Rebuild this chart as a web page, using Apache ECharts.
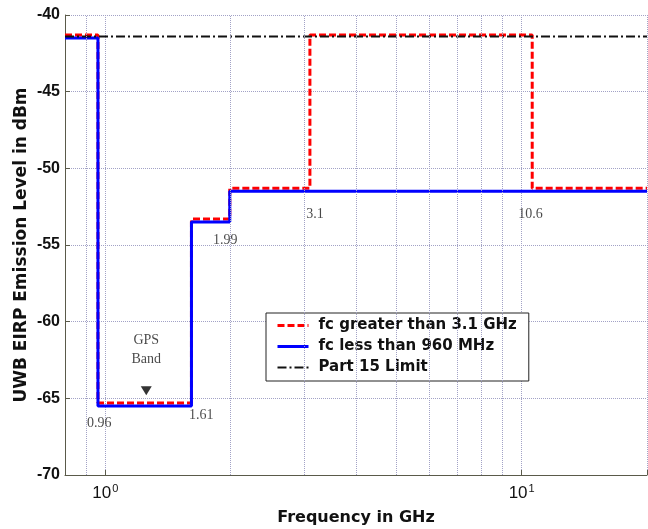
<!DOCTYPE html>
<html><head><meta charset="utf-8">
<script src="https://cdn.jsdelivr.net/npm/echarts@6/dist/echarts.min.js"></script>
<style>html,body{margin:0;padding:0;background:#fff}#c{width:648px;height:529px}</style>
</head><body><div id="c"></div>
<script>
// ---- data ----
const redX = [0.8, 0.96, 0.96, 1.61, 1.61, 1.99, 1.99, 3.1, 3.1, 10.6, 10.6, 20];
const redY = [-41.3, -41.3, -65.3, -65.3, -53.3, -53.3, -51.3, -51.3, -41.3, -41.3, -51.3, -51.3];
const blueX = [0.8, 0.96, 0.96, 1.61, 1.61, 1.99, 1.99, 20];
const blueY = [-41.5, -41.5, -65.5, -65.5, -53.5, -53.5, -51.5, -51.5];
const limitX = [0.8, 20];
const limitY = [-41.4, -41.4];
const seriesNames = ['fc greater than 3.1 GHz', 'fc less than 960 MHz', 'Part 15 Limit'];
const minorGridX = [0.9, 2, 3, 4, 5, 6, 7, 8, 9];
const annotText = ['0.96', '1.61', '1.99', '3.1', '10.6', 'GPS', 'Band'];
const annotX = [0.967, 1.70, 1.94, 3.19, 10.5, 1.254, 1.254];
const annotY = [-66.6, -66.1, -54.7, -52.97, -52.97, -61.2, -62.46];
const gpsMarkerX = [1.254];
const gpsMarkerY = [-64.5];

const pairs = (xs, ys) => xs.map((x, i) => [x, ys[i]]);
const gridColor = '#a2a2c6';
const axisColor = '#5a5a4a';

const chart = echarts.init(document.getElementById('c'), null, {renderer: 'canvas'});
const option = {
  animation: false,
  backgroundColor: '#fff',
  grid: {left: 65, top: 15, right: 1, bottom: 54, containLabel: false, outerBoundsMode: 'none'},
  legend: {
    data: [
      {name: seriesNames[0], lineStyle: {width: 3}},
      {name: seriesNames[1], lineStyle: {width: 3}},
      {name: seriesNames[2], lineStyle: {width: 2}}
    ],
    orient: 'vertical',
    left: 266, top: 313,
    itemWidth: 31, itemHeight: 14, itemGap: 6,
    padding: [5, 12, 6, 10],
    backgroundColor: '#fff',
    borderColor: '#222', borderWidth: 1,
    itemStyle: {opacity: 0},
    textStyle: {fontFamily: 'DejaVu Sans', fontWeight: 'bold', fontSize: 15, color: '#111', padding: [0, 0, 0, 5]}
  },
  xAxis: {
    type: 'log', logBase: 10, min: 0.8, max: 20,
    name: 'Frequency in GHz', nameLocation: 'middle', nameGap: 35, nameMoveOverlap: false,
    nameTextStyle: {fontFamily: 'DejaVu Sans', fontWeight: 'bold', fontSize: 16, color: '#111'},
    axisLine: {lineStyle: {color: axisColor, width: 1}},
    axisTick: {inside: true, length: 5, lineStyle: {color: axisColor}},
    axisLabel: {
      margin: 8,
      formatter: v => Math.abs(v - 1) < 1e-6 ? '{a|10}{b|0}' : (Math.abs(v - 10) < 1e-6 ? '{a|10}{b|1}' : ''),
      rich: {
        a: {fontFamily: 'Liberation Sans', fontSize: 17, color: '#111'},
        b: {fontFamily: 'Liberation Sans', fontSize: 11, color: '#111', padding: [0, 0, 9, 1]}
      }
    },
    splitLine: {show: true, lineStyle: {type: 'dotted', color: gridColor, width: 1}}
  },
  yAxis: {
    type: 'value', min: -70, max: -40, interval: 5,
    name: 'UWB EIRP Emission Level in dBm', nameLocation: 'middle', nameGap: 35, nameMoveOverlap: false,
    nameTextStyle: {fontFamily: 'DejaVu Sans', fontWeight: 'bold', fontSize: 17, color: '#111'},
    axisLine: {show: true, lineStyle: {color: axisColor, width: 1}},
    axisTick: {show: true, inside: true, length: 5, lineStyle: {color: axisColor}},
    axisLabel: {fontFamily: 'Liberation Sans', fontWeight: 'bold', fontSize: 16, color: '#111', margin: 5},
    splitLine: {show: true, lineStyle: {type: 'dotted', color: gridColor, width: 1}}
  },
  series: [
    {
      type: 'line', data: [], z: 1, silent: true,
      markLine: {
        silent: true, symbol: 'none', label: {show: false},
        lineStyle: {type: 'dotted', color: gridColor, width: 1},
        data: minorGridX.map(x => ({xAxis: x}))
      }
    },
    {
      name: seriesNames[0], type: 'line', data: pairs(redX, redY), z: 2,
      symbol: 'none', showSymbol: false,
      lineStyle: {color: '#ff0000', width: 3, type: [7, 3]},
      itemStyle: {color: '#ff0000'}
    },
    {
      name: seriesNames[1], type: 'line', data: pairs(blueX, blueY), z: 3,
      symbol: 'none', showSymbol: false,
      lineStyle: {color: '#0000ff', width: 3},
      itemStyle: {color: '#0000ff'}
    },
    {
      name: seriesNames[2], type: 'line', data: pairs(limitX, limitY), z: 4,
      symbol: 'none', showSymbol: false,
      lineStyle: {color: '#111111', width: 2, type: [9, 3, 2, 3]},
      itemStyle: {color: '#111111'}
    },
    {
      type: 'scatter', z: 5, silent: true, symbolSize: 0,
      data: annotText.map((t, i) => ({name: t, value: [annotX[i], annotY[i]]})),
      label: {show: true, position: 'inside', formatter: '{b}',
        fontFamily: 'Liberation Serif', fontSize: 14, color: '#1a1a1a'}
    },
    {
      type: 'scatter', z: 5, silent: true, symbol: 'triangle', symbolRotate: 180, symbolSize: [11, 9],
      data: pairs(gpsMarkerX, gpsMarkerY),
      itemStyle: {color: '#000'}
    }
  ]
};
chart.setOption(option);
</script>
</body></html>
